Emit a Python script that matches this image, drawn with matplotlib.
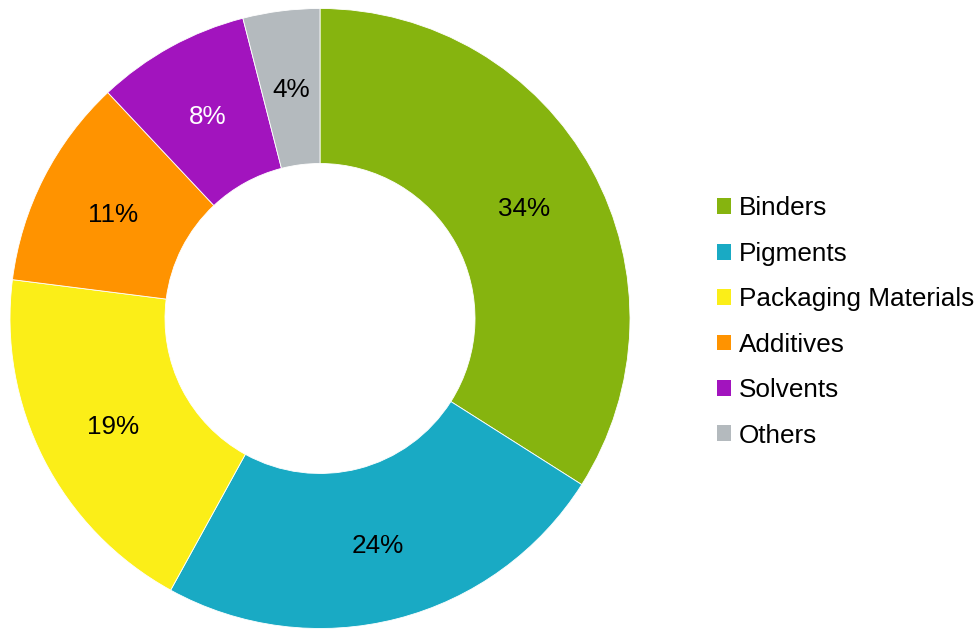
import matplotlib
matplotlib.use('Agg')
import matplotlib.pyplot as plt
from matplotlib.patches import Patch

plt.rcParams['font.family'] = ['Liberation Sans', 'DejaVu Sans']

categories = ['Binders', 'Pigments', 'Packaging Materials', 'Additives', 'Solvents', 'Others']
shares = [34, 24, 19, 11, 8, 4]
colors = ['#86B40F', '#19AAC4', '#FBEE18', '#FF9300', '#A214BE', '#B4BABE']
label_colors = ['black', 'black', 'black', 'black', 'white', 'black']

W, H = 979, 629
fig = plt.figure(figsize=(W / 100, H / 100), dpi=100)
ax = fig.add_axes([10 / W, 0.5 / H, 620 / W, 620 / H])

wedges, texts, autotexts = ax.pie(
    shares, colors=colors, startangle=90, counterclock=False,
    radius=1, wedgeprops=dict(width=0.5, edgecolor='white', linewidth=0.6),
    autopct='%d%%', pctdistance=0.75,
    textprops=dict(fontsize=18.8))
for t, c in zip(autotexts, label_colors):
    t.set_color(c)
    t.set_va('center_baseline')
ax.set_xlim(-1.0, 1.0)
ax.set_ylim(-1.0, 1.0)
ax.set_aspect('equal')
ax.axis('off')

handles = [Patch(facecolor=c, edgecolor='none') for c in colors]
fig.legend(handles, categories, loc='center left',
           bbox_to_anchor=(717 / W, 1 - 322 / H), frameon=False,
           fontsize=18.8, handlelength=0.55, handleheight=0.55,
           handletextpad=0.28, labelspacing=0.82, borderpad=0, borderaxespad=0)

fig.savefig('out.png', dpi=100)
